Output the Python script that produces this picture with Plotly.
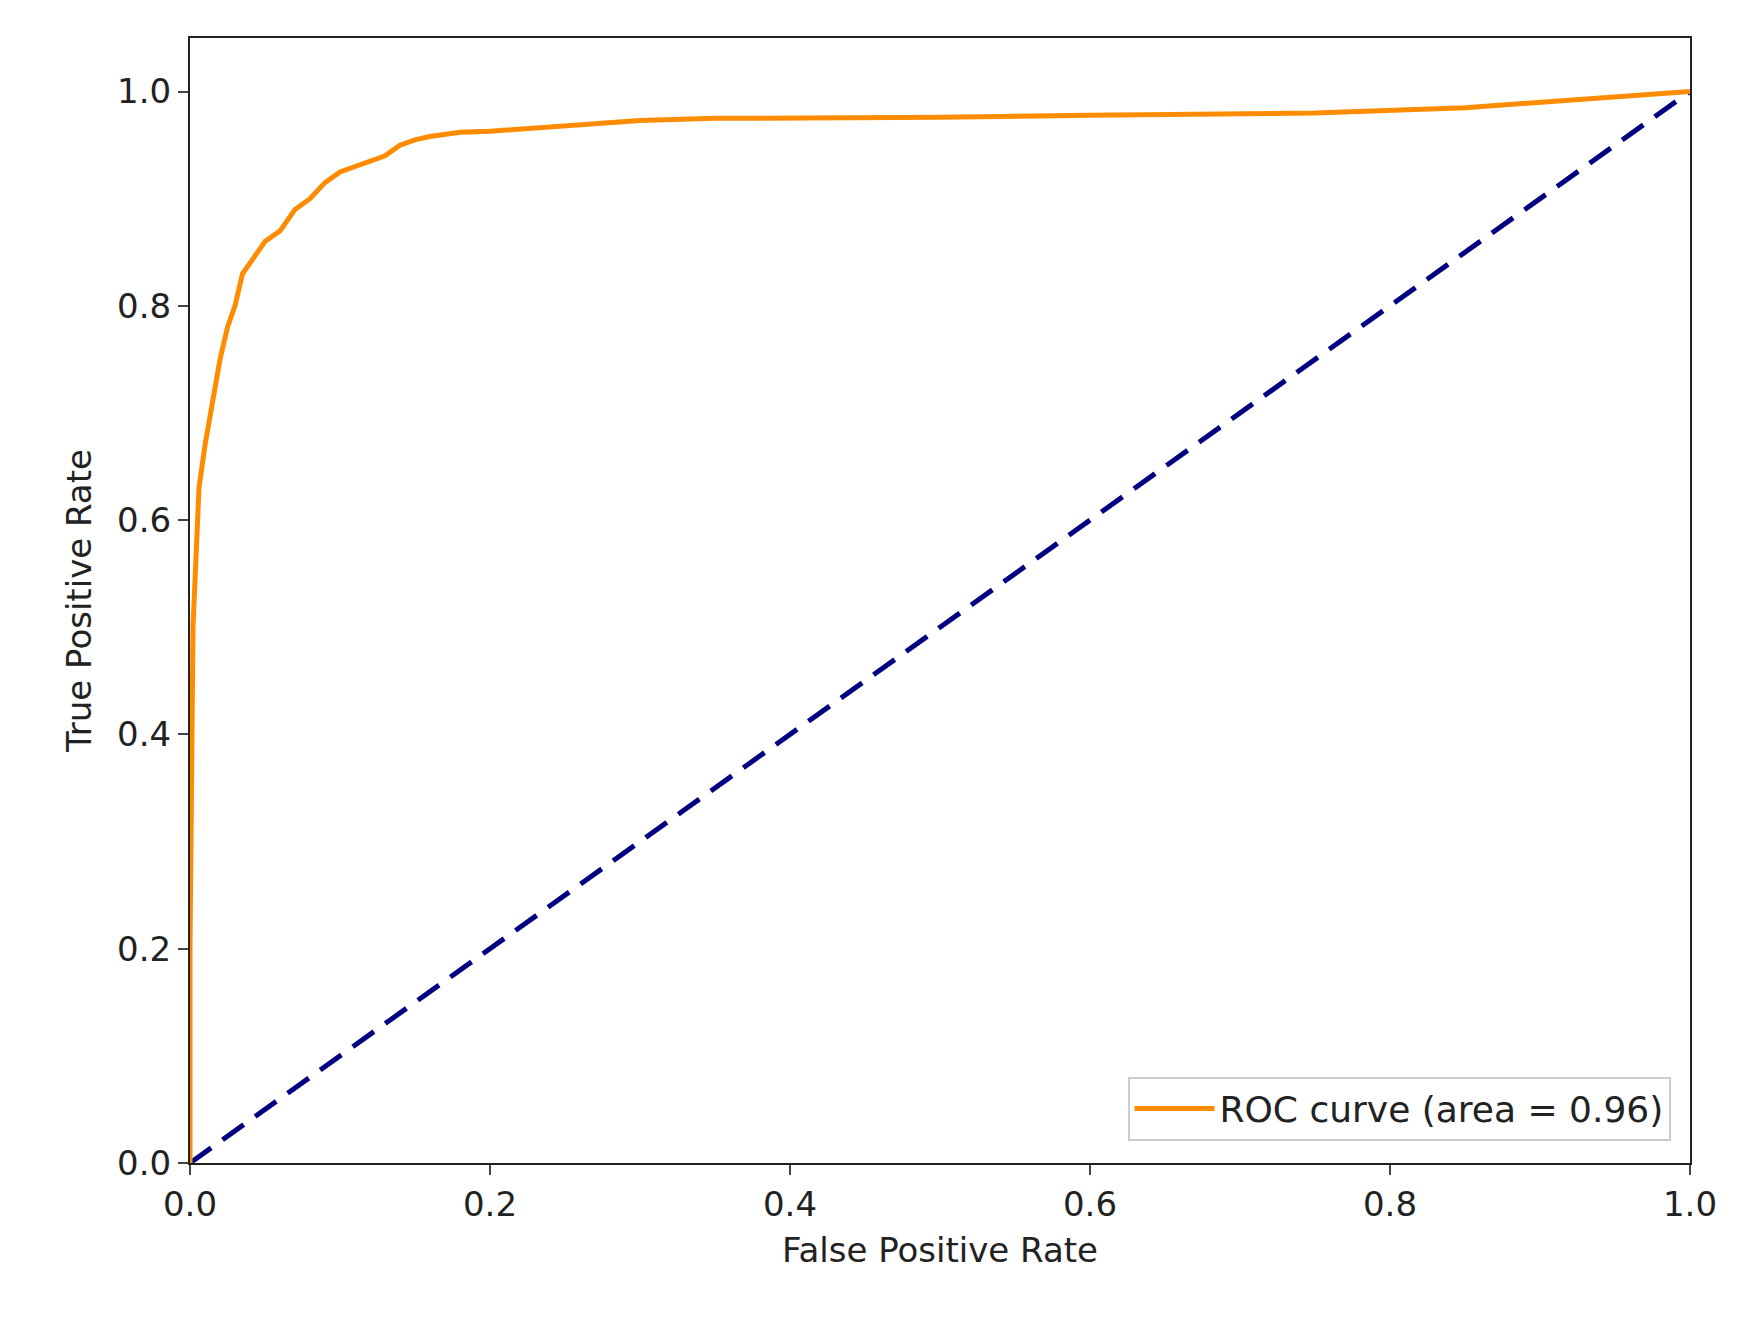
import plotly.graph_objects as go

# ROC curve values
fpr = [0.0, 0.0, 0.002, 0.004, 0.006, 0.01, 0.015, 0.02, 0.025, 0.03, 0.035,
       0.04, 0.05, 0.06, 0.07, 0.08, 0.09, 0.1, 0.11, 0.12, 0.13, 0.14, 0.15,
       0.16, 0.18, 0.2, 0.25, 0.3, 0.35, 0.5, 0.6, 0.75, 0.85, 0.9, 0.95, 1.0]
tpr = [0.0, 0.2, 0.5, 0.58, 0.63, 0.67, 0.71, 0.75, 0.78, 0.8, 0.83,
       0.84, 0.86, 0.87, 0.89, 0.9, 0.915, 0.925, 0.93, 0.935, 0.94, 0.95, 0.955,
       0.958, 0.962, 0.963, 0.968, 0.973, 0.975, 0.976, 0.978, 0.98, 0.985, 0.99, 0.995, 1.0]
diag = [0.0, 1.0]
roc_auc = 0.96
ticks = [0.0, 0.2, 0.4, 0.6, 0.8, 1.0]

fig = go.Figure()
fig.add_trace(go.Scatter(x=diag, y=diag, mode="lines", showlegend=False,
                         line=dict(color="navy", width=5, dash="26px,14px")))
fig.add_trace(go.Scatter(x=fpr, y=tpr, mode="lines",
                         name=f"ROC curve (area = {roc_auc:.2f})",
                         line=dict(color="darkorange", width=5)))

axis = dict(showline=True, linecolor="#222", linewidth=2, mirror=True,
            showgrid=False, zeroline=False, ticks="outside", ticklen=10,
            tickwidth=2, tickvals=ticks, tickformat=".1f",
            tickfont=dict(size=34, color="#222"))
fig.update_xaxes(range=[0, 1], title=dict(text="False Positive Rate",
                 font=dict(size=34, color="#222")), **axis)
fig.update_yaxes(range=[0, 1.05], title=dict(text="True Positive Rate",
                 font=dict(size=34, color="#222")), **axis)

fig.update_layout(
    width=1746, height=1317,
    margin=dict(l=182, r=64, t=30, b=162),
    plot_bgcolor="white", paper_bgcolor="white",
    font=dict(family="DejaVu Sans"),
    legend=dict(x=0.987, y=0.02, xanchor="right", yanchor="bottom",
                bordercolor="#ccc", borderwidth=2, bgcolor="white",
                itemwidth=80, font=dict(size=36, color="#222")),
)
fig.write_html("out.html")
